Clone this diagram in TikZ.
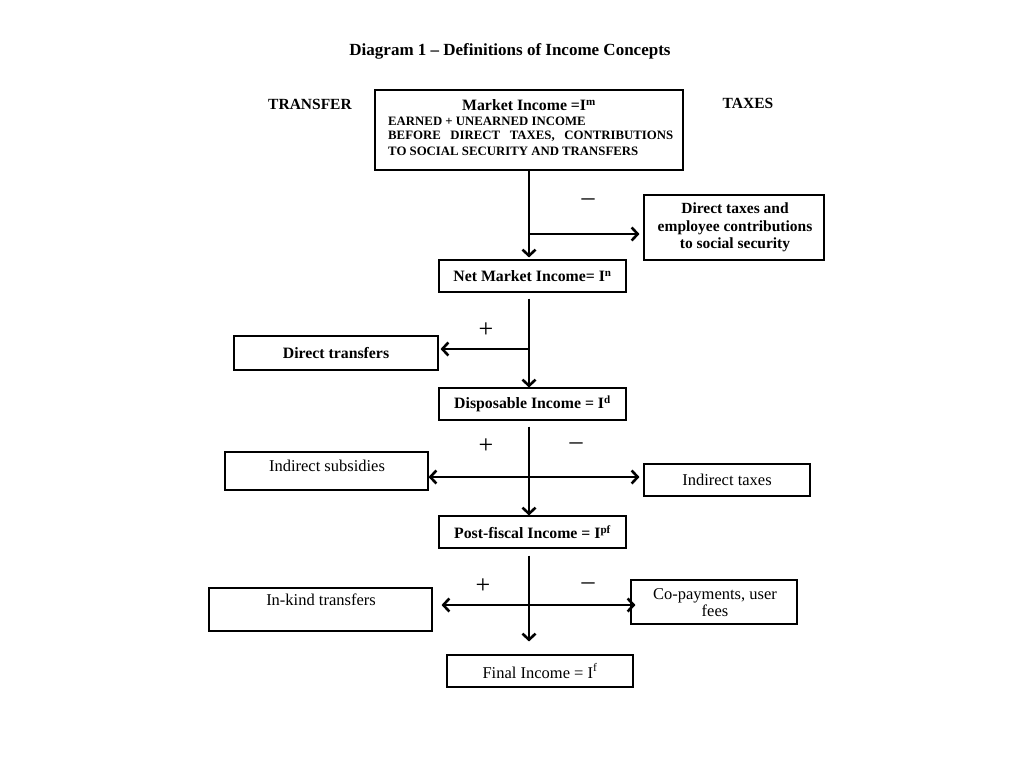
\documentclass[tikz,border=0pt]{standalone}
\usepackage{fontspec}
\setmainfont{Liberation Serif}
\usetikzlibrary{arrows.meta}
\begin{document}
\begin{tikzpicture}[x=1pt,y=-1pt,
  box/.style={draw,line width=1.1pt,inner sep=0pt},
  txt/.style={inner sep=0pt,font=\fontsize{16.5}{19}\selectfont},
  btxt/.style={inner sep=0pt,font=\fontsize{15.8}{19}\selectfont\bfseries},
  caps/.style={inner sep=0pt,anchor=west,font=\fontsize{12.8}{14}\selectfont\bfseries},
  sign/.style={inner sep=0pt,font=\fontsize{26}{26}\selectfont},
  flow/.style={line width=1.4pt,-{Straight Barb[length=6pt,width=13pt,line width=2.6pt]}},
  both/.style={line width=1.3pt,{Straight Barb[length=6pt,width=13pt,line width=2.6pt]}-{Straight Barb[length=6pt,width=13pt,line width=2.6pt]}},
  side/.style={line width=1.3pt,-{Straight Barb[length=6pt,width=13pt,line width=2.6pt]}}
]
\useasboundingbox (0,0) rectangle (1024,768);
\fill[white] (0,0) rectangle (1024,768);

% title and headers
\node[inner sep=0pt,font=\fontsize{17}{20}\selectfont\bfseries] (title) at (510,51) {Diagram 1 -- Definitions of Income Concepts};
\node[inner sep=0pt,font=\fontsize{15.5}{18}\selectfont\bfseries] (transfer) at (310,104) {TRANSFER};
\node[inner sep=0pt,font=\fontsize{15.5}{18}\selectfont\bfseries] (taxes) at (748,103) {TAXES};

% market income box
\node[box,minimum width=308pt,minimum height=80pt] (mkt) at (529,130) {};
\node[btxt] (mkttitle) at (529,105) {Market Income =I\textsuperscript{m}};
\node[caps] (mk1) at (388,121.5) {EARNED + UNEARNED INCOME};
\node[caps] (mk2) at (388,136.5) {\makebox[285pt][s]{BEFORE DIRECT TAXES, CONTRIBUTIONS}};
\node[caps] (mk3) at (388,151.5) {TO SOCIAL SECURITY AND TRANSFERS};

% direct taxes box
\node[box,minimum width=180pt,minimum height=65pt] (dtax) at (734,227.5) {};
\node[btxt,align=center,font=\fontsize{15.5}{17.5}\selectfont\bfseries] (dtaxt) at (735,227.5) {Direct taxes and\\employee contributions\\to social security};

% net market income
\node[box,minimum width=187pt,minimum height=32pt,btxt] (net) at (532.5,276) {Net Market Income= I\textsuperscript{n}};

% direct transfers
\node[box,minimum width=204pt,minimum height=34pt,btxt] (dtr) at (336,353) {Direct transfers};

% disposable income
\node[box,minimum width=187pt,minimum height=32pt,btxt] (disp) at (532.5,404) {Disposable Income = I\textsuperscript{d}};

% indirect subsidies / taxes
\node[box,minimum width=203pt,minimum height=38pt] (isub) at (326.5,471) {};
\node[txt] (isubt) at (327,465.5) {Indirect subsidies};
\node[box,minimum width=166pt,minimum height=32pt,txt] (itax) at (727,480) {Indirect taxes};

% post-fiscal income
\node[box,minimum width=187pt,minimum height=32pt,btxt] (pf) at (532.5,532) {Post-fiscal Income = I\textsuperscript{pf}};

% in-kind transfers / co-payments
\node[box,minimum width=223pt,minimum height=43pt] (ink) at (320.5,609.5) {};
\node[txt] (inkt) at (321,600) {In-kind transfers};
\node[box,minimum width=166pt,minimum height=44pt] (cop) at (714,602) {};
\node[txt,align=center,font=\fontsize{16.5}{17.5}\selectfont] (copt) at (715,602.5) {Co-payments, user\\fees};

% final income
\node[box,minimum width=186pt,minimum height=32pt,txt] (fin) at (540,671) {Final Income = I\textsuperscript{f}};

% main flow
\draw[flow,shorten >=2pt] (mkt.south -| 529,0) -- (net.north -| 529,0);
\draw[flow,shorten <=6pt] (net.south -| 529,0) -- (disp.north -| 529,0);
\draw[flow,shorten <=6pt] (disp.south -| 529,0) -- (pf.north -| 529,0);
\draw[flow,shorten <=7pt,shorten >=13pt] (pf.south -| 529,0) -- (fin.north -| 529,0);

% branches
\coordinate (b1) at (529,234);
\draw[side,shorten >=4pt] (b1) -- (dtax.west |- b1);
\node[sign] (m1) at (588,202) {--};

\coordinate (b2) at (529,349);
\draw[side,shorten >=2pt] (b2) -- (dtr.east |- b2);
\node[sign] (p2) at (486,330) {+};

\coordinate (b3) at (529,477);
\draw[both,shorten >=4pt] (isub.east |- b3) -- (itax.west |- b3);
\node[sign] (p3) at (486,446) {+};
\node[sign] (m3) at (576,446) {--};

\coordinate (b4) at (529,605);
\draw[both,shorten <=9pt,shorten >=-5pt] (ink.east |- b4) -- (cop.west |- b4);
\node[sign] (p4) at (483,586) {+};
\node[sign] (m4) at (588,586) {--};
\end{tikzpicture}
\end{document}
